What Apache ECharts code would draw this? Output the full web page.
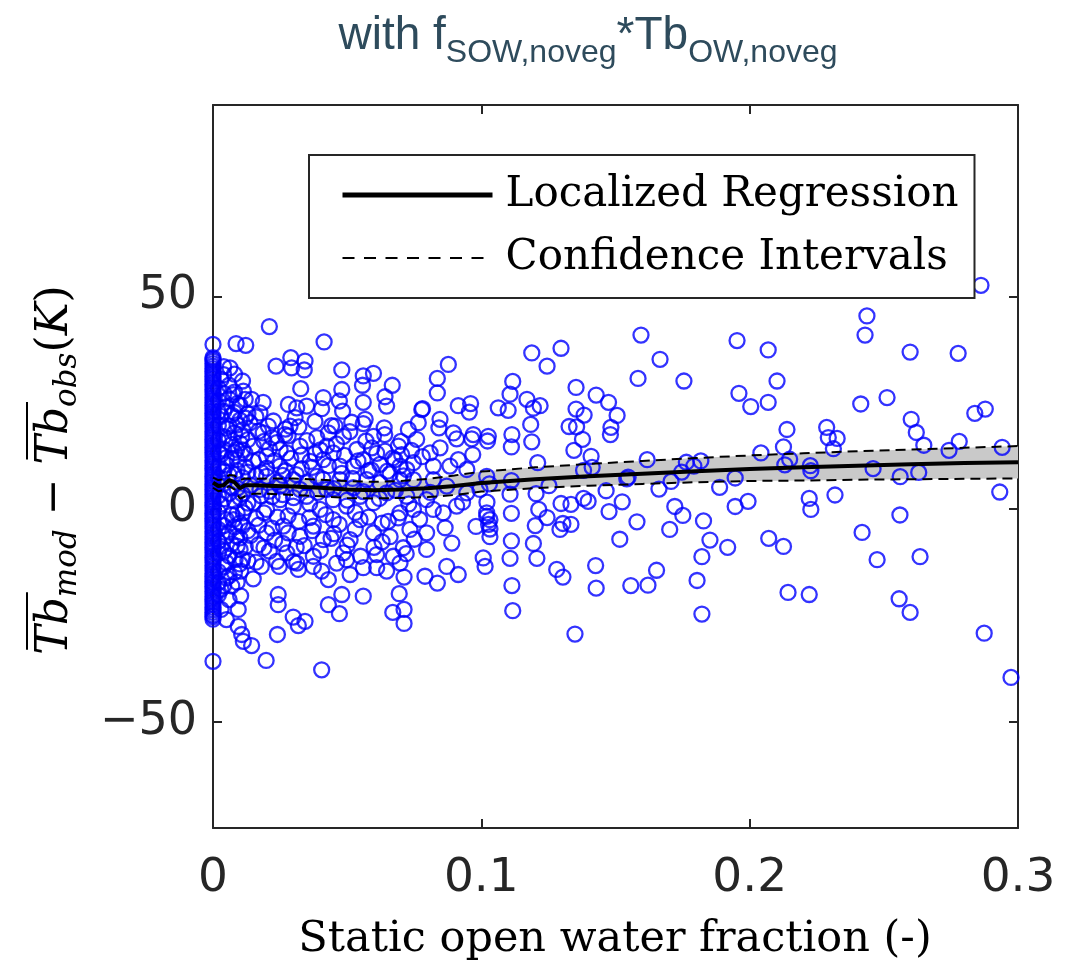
<!DOCTYPE html>
<html><head><meta charset="utf-8">
<script src="https://cdn.jsdelivr.net/npm/echarts@6/dist/echarts.min.js"></script>
<style>html,body{margin:0;padding:0;background:#fff}#c{width:1081px;height:965px}</style>
</head><body><div id="c"></div>
<script>
// ---------- data ----------
const xTicks = [0, 0.1, 0.2, 0.3];
const yTicks = [-50, 0, 50];

const regX    = [0, 0.002, 0.004, 0.006, 0.008, 0.010, 0.012, 0.015, 0.02, 0.03, 0.04, 0.05, 0.06, 0.07, 0.08, 0.09, 0.1, 0.12, 0.14, 0.16, 0.18, 0.2, 0.22, 0.24, 0.26, 0.28, 0.3];
const regY    = [6.2, 5.4, 5.6, 6.8, 6.3, 4.9, 5.6, 5.6, 5.5, 5.3, 5.0, 4.6, 4.4, 4.6, 4.9, 5.4, 6.1, 7.0, 7.7, 8.3, 8.9, 9.4, 9.8, 10.2, 10.5, 10.8, 11.0];
const ciUpper = [7.4, 6.8, 7.0, 8.0, 7.9, 6.8, 7.2, 7.1, 7.2, 7.2, 6.9, 6.6, 6.4, 6.6, 7.1, 7.9, 8.8, 9.8, 10.6, 11.3, 12.0, 12.6, 13.1, 13.6, 14.0, 14.4, 14.8];
const ciLower = [5.0, 4.2, 4.4, 5.4, 4.6, 2.4, 3.0, 3.6, 3.6, 3.3, 3.0, 2.6, 2.5, 2.6, 2.8, 3.3, 4.1, 4.9, 5.5, 5.9, 6.3, 6.6, 6.7, 6.9, 7.0, 7.1, 7.2];

// points sitting exactly at x = 0 (dense column)
const zeroColumnY = [-35.8,-25.9,-24.3,-23.1,-21.8,-20.6,-19.4,-18.2,-17.1,-15.8,-14.5,-13.3,-12.0,-10.9,-9.6,-8.4,-7.1,-5.9,-4.6,-3.5,-2.2,-1.0,0.3,1.5,2.8,4.0,5.2,6.5,7.7,9.0,10.2,11.4,12.7,13.9,15.1,16.4,17.6,18.8,20.1,21.3,22.5,23.8,25.0,26.2,27.5,28.7,29.9,31.2,32.4,33.6,34.8,35.6,38.7];
const zeroColumnY2 = [-25.3,-24.9,-23.7,-22.4,-21.2,-20.0,-18.8,-17.6,-16.4,-15.2,-13.9,-12.6,-11.4,-10.2,-9.0,-7.8,-6.5,-5.3,-4.1,-2.8,-1.6,-0.4,0.9,2.1,3.4,4.6,5.8,7.1,8.3,9.6,10.8,12.1,13.3,14.5,15.8,17.0,18.2,19.5,20.7,21.9,23.1,24.4,25.6,26.9,28.1,29.3,30.6,31.8,33.0,34.2,35.2];

// x in (0, 0.015]: crowded cluster next to the axis
const pointsNearZero = [[0.003,30.5],[0.004,27.2],[0.005,24.1],[0.003,21.8],[0.006,19.5],[0.004,17.0],[0.007,15.2],[0.003,12.8],[0.005,10.4],[0.008,8.1],[0.004,6.0],[0.006,3.7],[0.003,1.2],[0.007,-1.4],[0.004,-3.9],[0.005,-6.3],[0.003,-8.8],[0.006,-11.0],[0.004,-13.6],[0.005,-16.2],[0.003,-18.9],[0.006,-21.3],[0.008,22.7],[0.009,19.8],[0.01,24.5],[0.009,11.6],[0.011,13.9],[0.009,4.9],[0.011,7.4],[0.01,-3.3],[0.012,0.3],[0.009,-8.7],[0.011,-11.8],[0.012,9.9],[0.013,16.3],[0.012,21.4],[0.013,-5.1],[0.014,5.6],[0.015,11.2],[0.004,33.5],[0.006,29.1],[0.008,31.7],[0.003,-23.6],[0.005,-26.0],[0.007,-18.1],[0.0086,38.9],[0.0122,38.5],[0.0063,33.2],[0.0076,26.9],[0.0113,27.7],[0.0144,25.8],[0.0138,20.3],[0.0107,17.1],[0.0088,14.0],[0.015,14.8],[0.0113,-0.9],[0.0144,-32.1],[0.0113,-31.1],[0.0107,-29.5],[0.0094,-27.6],[0.0094,-23.6],[0.0103,-20.4],[0.0103,-14.6],[0.0082,-11.9],[0.0101,-9.5],[0.0088,-6.4],[0.0076,-2.5],[0.015,1.5],
[0.002,28.4],[0.002,25.5],[0.002,22.9],[0.002,19.7],[0.002,16.2],[0.002,13.4],[0.002,9.8],[0.002,7.3],[0.002,3.1],[0.002,-0.7],[0.002,-4.8],[0.002,-7.6],[0.002,-10.4],[0.002,-14.7],[0.002,-17.3],[0.002,-20.2],[0.004,31.6],[0.004,23.0],[0.004,14.1],[0.004,8.8],[0.004,2.4],[0.004,-9.9],[0.004,-18.0],[0.005,19.0],[0.005,12.1],[0.005,-2.5],[0.005,-12.6],[0.006,25.9],[0.006,16.6],[0.006,8.0],[0.006,-5.4],[0.006,-15.7],[0.007,22.1],[0.007,11.9],[0.007,5.0],[0.007,-8.2],[0.008,27.5],[0.008,17.9],[0.008,13.3],[0.008,1.9],[0.008,-4.2],[0.008,-14.9],[0.009,24.8],[0.009,9.1],[0.009,-1.0],[0.009,-17.2],[0.01,20.9],[0.01,15.5],[0.01,2.7],[0.01,-6.8],[0.01,-12.9],[0.011,30.1],[0.011,18.6],[0.011,3.5],[0.011,-3.9],[0.012,25.8],[0.012,13.0],[0.012,-8.9],[0.013,8.7],[0.013,1.4],[0.013,-12.2],[0.013,22.4]];

// 0.015 < x <= 0.105
const pointsLeft = [[0.021,42.9],[0.0414,39.3],[0.0235,33.6],[0.029,35.6],[0.0293,33.2],[0.0343,34.8],[0.034,32.7],[0.048,32.7],[0.0598,31.9],[0.056,31.3],[0.0557,29.1],[0.0668,29.1],[0.0877,34.0],[0.0836,30.7],[0.0836,27.3],[0.0327,28.3],[0.048,28.1],[0.0411,26.2],[0.0471,25.4],[0.056,25.1],[0.0641,26.4],[0.0647,24.2],[0.0778,23.4],[0.0914,24.3],[0.096,24.8],[0.0955,22.8],[0.1026,17.1],[0.0187,25.1],[0.0281,24.6],[0.0312,23.8],[0.0349,24.2],[0.0405,23.6],[0.0442,19.6],[0.0483,23.0],[0.0517,20.4],[0.0567,21.1],[0.056,20.1],[0.0638,19.1],[0.0598,17.1],[0.0728,18.7],[0.0765,20.3],[0.0781,23.6],[0.0846,21.1],[0.0842,19.1],[0.0896,17.9],[0.0908,16.5],[0.0964,16.5],[0.0968,12.8],[0.097,17.5],[0.0846,14.4],[0.0809,13.2],[0.0759,16.4],[0.0691,14.8],[0.0703,12.8],[0.0641,13.6],[0.0678,11.6],[0.0592,14.4],[0.056,11.6],[0.0536,14.0],[0.0486,17.1],[0.0455,19.5],[0.0424,14.8],[0.0387,16.8],[0.0306,21.5],[0.0287,19.5],[0.0268,17.5],[0.0225,20.7],[0.0206,19.5],[0.0175,22.6],[0.0237,15.6],[0.0275,13.2],[0.0324,14.8],[0.0362,11.2],[0.0411,11.6],[0.0473,10.1],[0.0448,13.2],[0.0523,10.1],[0.0622,10.5],[0.0697,10.1],[0.0747,10.9],[0.0821,10.1],[0.0883,10.1],[0.0914,11.6],[0.0946,9.3],[0.102,7.7],[0.1063,23.8],[0.02,12.4],[0.025,10.1],[0.0187,17.9],
[0.0697,6.9],[0.0722,9.3],[0.0747,6.9],[0.0821,6.9],[0.0871,5.4],[0.0946,3.8],[0.0995,4.6],[0.102,-0.9],[0.1032,-2.5],[0.0908,0.7],[0.0858,-0.9],[0.0821,-0.1],[0.0796,2.2],[0.0747,-0.1],[0.0722,3.0],[0.0647,3.8],[0.0598,1.5],[0.0548,3.0],[0.0498,0.7],[0.0448,2.2],[0.0399,-0.1],[0.0349,3.0],[0.0299,0.7],[0.025,2.2],[0.02,-0.1],[0.0573,6.9],[0.0473,6.9],[0.0387,7.7],[0.0299,6.9],[0.02,7.7],[0.0175,4.6],[0.0424,4.6],[0.0523,5.0],[0.0622,6.2],[0.0324,4.6],[0.025,5.4],
[0.0405,-37.8],[0.0198,-35.6],[0.024,-29.5],[0.0243,-20.1],[0.0243,-22.5],[0.0299,-25.4],[0.0318,-27.4],[0.0343,-26.4],[0.043,-22.5],[0.0471,-24.6],[0.048,-20.1],[0.056,-20.5],[0.067,-24.3],[0.0712,-23.6],[0.0712,-26.9],[0.0694,-19.9],[0.0712,-16.0],[0.0247,-13.5],[0.0237,-12.3],[0.0318,-14.2],[0.0312,-12.7],[0.0374,-11.1],[0.0374,-13.5],[0.0405,-14.6],[0.043,-16.6],[0.0461,-12.7],[0.0498,-11.9],[0.0511,-15.4],[0.056,-13.8],[0.061,-10.7],[0.061,-13.8],[0.0647,-14.6],[0.0672,-11.1],[0.0709,-9.1],[0.0697,-12.7],[0.0796,-9.5],[0.079,-15.8],[0.0836,-17.4],[0.0871,-13.5],[0.0914,-15.4],[0.1007,-11.5],[0.102,-1.7],[0.1032,-4.7],[0.0865,-4.4],[0.0796,-5.6],[0.0734,-4.8],[0.0653,-2.9],[0.0598,-5.6],[0.0511,-7.2],[0.0411,-7.2],[0.0324,-6.4],[0.0275,-10.3],[0.0169,-8.4],[0.02,-5.6],[0.0262,-4.0],[0.0374,-4.0],[0.0448,-2.5],[0.0548,-2.5],[0.0697,-0.9],[0.0486,-10.3],
[0.016,-2.2],[0.017,18.3],[0.018,8.6],[0.016,-12.5],[0.019,-9.1],[0.021,14.2],[0.022,2.9],[0.023,-7.3],[0.026,7.9],[0.028,-1.6],[0.027,18.8],[0.033,9.5],[0.031,-9.0],[0.036,-2.0],[0.038,13.0],[0.045,-5.8],[0.053,-0.8],[0.058,9.0],[0.063,-7.7],[0.066,8.3],[0.077,-2.4],[0.081,3.9],[0.089,-8.0],[0.093,1.6],[0.098,-4.1],[0.078,12.3],
[0.014,-6.2],[0.015,-16.4],[0.016,7.9],[0.016,21.7],[0.017,-3.8],[0.017,11.6],[0.018,-13.5],[0.018,3.1],[0.019,15.9],[0.019,-0.9],[0.02,9.6],[0.021,-9.9],[0.021,4.2],[0.022,16.8],[0.022,-4.5],[0.023,11.4],[0.024,6.3],[0.024,-1.9],[0.025,14.0],[0.026,-8.1],[0.026,3.4],[0.027,9.0],[0.028,-5.6],[0.028,17.2],[0.029,11.9],[0.03,2.7],[0.03,-12.4],[0.031,8.1],[0.032,-2.9],[0.032,19.3],[0.033,12.7],[0.034,-8.6],[0.035,6.2],[0.035,16.1],[0.036,1.2],[0.037,-5.1],[0.037,9.8],[0.038,20.6],[0.039,3.9],[0.04,-9.7],[0.04,13.9],[0.041,7.0],[0.042,-1.3],[0.043,17.9],[0.043,10.2],[0.044,-6.9],[0.045,4.8],[0.046,15.3],[0.047,-3.6],[0.048,8.4],[0.049,12.6],[0.05,-8.5],[0.05,2.1],[0.051,18.2],[0.052,7.2],[0.053,-4.7],[0.054,11.3],[0.055,-11.1],[0.056,4.1],[0.057,16.0],[0.058,-1.9],[0.059,9.2],[0.06,-9.0],[0.061,13.1],[0.062,2.5],[0.063,-3.3],[0.064,17.5],[0.065,8.9],[0.066,-6.5],[0.067,12.0],[0.068,4.4],[0.069,-2.1],[0.07,15.9],[0.071,7.8],[0.072,-10.5],[0.073,1.2],[0.074,13.8],[0.075,-7.1]];

// x > 0.105
const pointsRight = [[0.2437,45.4],[0.243,40.9],[0.1595,40.9],[0.1953,39.6],[0.2069,37.4],[0.2598,36.9],[0.2777,36.6],[0.1188,36.7],[0.1297,37.8],[0.1245,33.6],[0.1666,35.2],[0.1584,30.7],[0.1755,30.1],[0.2102,30.1],[0.1117,30.0],[0.1107,27.0],[0.1353,28.6],[0.1428,26.8],[0.196,27.2],[0.2069,25.1],[0.2004,24.1],[0.2414,24.7],[0.2512,26.2],[0.2839,22.5],[0.2878,23.5],[0.2602,21.1],[0.2621,18.0],[0.2649,15.0],[0.2743,13.8],[0.2781,15.9],[0.2941,14.5],[0.2932,4.0],[0.2974,-39.6],[0.117,25.8],[0.1194,23.7],[0.1219,24.3],[0.11,23.2],[0.1184,19.9],[0.1114,17.5],[0.1112,14.6],[0.1188,15.8],[0.1023,16.0],[0.121,10.9],[0.1353,23.5],[0.1383,22.1],[0.1327,19.4],[0.1355,19.3],[0.1377,16.4],[0.1345,13.8],[0.1474,25.1],[0.1506,22.0],[0.1483,19.2],[0.1481,17.5],[0.1409,12.4],[0.1413,9.8],[0.1618,11.6],[0.1764,11.0],[0.1818,11.3],[0.1792,10.1],[0.1747,8.7],[0.2042,13.2],[0.2126,14.6],[0.2139,18.7],[0.2149,11.7],[0.2131,10.4],[0.2287,19.2],[0.2293,16.8],[0.2326,16.6],[0.2312,14.2],[0.2226,10.2],[0.2228,9.0],[0.246,9.5],[0.2561,7.6],[0.263,8.6],[0.1946,7.3],[0.1888,5.1],[0.1946,0.6],[0.1994,1.8],[0.2222,2.5],[0.2228,-0.1],[0.2318,3.3],[0.256,-1.4],[0.2419,-5.5],[0.2475,-11.9],[0.2635,-11.2],[0.2071,-6.9],[0.2126,-8.8],[0.2143,-19.6],[0.2222,-20.1],[0.2557,-21.1],[0.2598,-24.3],[0.2874,-29.2],[0.1721,0.6],[0.1751,-1.5],[0.1702,-4.8],[0.1828,-2.8],[0.1852,-7.3],[0.1822,-11.2],[0.1918,-9.0],[0.1804,-16.8],[0.1822,-24.7],[0.1653,-14.4],[0.1621,-17.9],[0.1557,-18.0],[0.158,-3.0],[0.1516,-7.1],[0.1662,4.7],[0.1707,6.5],[0.1542,7.1],[0.1525,1.7],[0.1476,-0.6],[0.1465,4.3],[0.1426,-13.3],[0.1428,-18.6],[0.1349,-29.4],[0.1398,1.8],[0.1381,2.5],[0.1334,1.1],[0.1297,1.3],[0.1304,-3.4],[0.1334,-3.6],[0.1293,-4.8],[0.1281,-14.2],[0.1304,-16.0],[0.1245,-2.0],[0.1214,-0.1],[0.1201,-3.9],[0.1194,-8.1],[0.1207,-11.6],[0.1112,-1.0],[0.1112,-7.5],[0.1107,-11.6],[0.1114,-18.0],[0.1117,-23.9],[0.1027,-3.6],[0.1032,-6.5],[0.1014,-13.5],[0.1021,1.6],[0.103,5.9],[0.1112,6.7],[0.1107,3.5],[0.1252,5.5],[0.1381,9.1],[0.1547,7.5],[0.1204,3.6],[0.2862,52.6]];

// ---------- styles ----------
const AX = '#262626';
const SERIF = '"DejaVu Serif", serif';
const SANS = '"DejaVu Sans", sans-serif';

const scatterData = zeroColumnY.concat(zeroColumnY2).map(y => [0, y]).concat(pointsNearZero, pointsLeft, pointsRight);
const pairs = ys => regX.map((x, i) => [x, ys[i]]);

// text measurement for composed labels
const mctx = document.createElement('canvas').getContext('2d');
function tw(t, style, size, fam) { mctx.font = style + ' ' + size + 'px ' + fam; return mctx.measureText(t).width; }

// y-axis title (rotated): Tb_mod − Tb_obs (K) with overlines
function yTitle() {
  const M = 44, S = 31;
  const pieces = [
    {t: 'Tb', s: M, st: 'italic', b: 0, over: true},
    {t: 'mod', s: S, st: 'italic', b: 8},
    {t: ' \u2212 ', s: M, st: 'normal', b: 0},
    {t: 'Tb', s: M, st: 'italic', b: 0, over: true},
    {t: 'obs', s: S, st: 'italic', b: 8},
    {t: '(', s: M, st: 'normal', b: 0},
    {t: 'K', s: M, st: 'italic', b: 0},
    {t: ')', s: M, st: 'normal', b: 0}
  ];
  pieces.forEach(p => p.w = tw(p.t, p.st, p.s, SERIF));
  const W = pieces.reduce((a, p) => a + p.w, 0);
  let pos = -W / 2;
  const children = [];
  pieces.forEach(p => {
    children.push({type: 'text', x: pos, y: p.b - 0.346 * p.s,
      style: {text: p.t, fontFamily: SERIF, fontSize: p.s, fontStyle: p.st, fill: '#000', align: 'left', verticalAlign: 'middle'}});
    if (p.over) children.push({type: 'line', shape: {x1: pos + 5, y1: -44, x2: pos + p.w + 5, y2: -44}, style: {stroke: '#000', lineWidth: 2}});
    pos += p.w;
  });
  return {type: 'group', x: 71, y: 470, rotation: Math.PI / 2, children};
}

// title: with f_SOW,noveg * Tb_OW,noveg
function mainTitle() {
  const M = 46, S = 32, base = 52, subDrop = 12, FAM = '"Liberation Sans", Arial, sans-serif';
  const pieces = [
    {t: 'with f', s: M, b: base},
    {t: 'SOW,noveg', s: S, b: base + subDrop},
    {t: '*Tb', s: M, b: base},
    {t: 'OW,noveg', s: S, b: base + subDrop}
  ];
  pieces.forEach(p => p.w = tw(p.t, 'normal', p.s, FAM));
  const W = pieces.reduce((a, p) => a + p.w, 0);
  let pos = 588 - W / 2;
  const children = [];
  pieces.forEach(p => {
    children.push({type: 'text', x: pos, y: p.b - 0.346 * p.s,
      style: {text: p.t, fontFamily: FAM, fontSize: p.s, fill: '#2e4b5c', align: 'left', verticalAlign: 'middle'}});
    pos += p.w;
  });
  return {type: 'group', children};
}

const axisCommon = {
  axisLine: {show: true, onZero: false, lineStyle: {color: AX, width: 2}},
  splitLine: {show: false}
};

const chart = echarts.init(document.getElementById('c'), null, {renderer: 'canvas'});
chart.setOption({
  backgroundColor: '#fff',
  animation: false,
  grid: {left: 213, right: 63, top: 105, bottom: 137, containLabel: false},
  xAxis: [
    Object.assign({type: 'value', min: xTicks[0], max: xTicks[xTicks.length - 1], interval: 0.1, position: 'bottom',
      axisTick: {show: true, inside: true, length: 9, lineStyle: {color: AX, width: 2}},
      axisLabel: {show: true, margin: 27, fontFamily: SANS, fontSize: 47, color: AX,
        formatter: v => String(Math.round(v * 10) / 10)}}, axisCommon),
    Object.assign({type: 'value', min: xTicks[0], max: xTicks[xTicks.length - 1], interval: 0.1, position: 'top',
      axisTick: {show: true, inside: true, length: 9, lineStyle: {color: AX, width: 2}},
      axisLabel: {show: false}}, axisCommon)
  ],
  yAxis: [
    Object.assign({type: 'value', min: -75, max: 95, position: 'left',
      axisTick: {show: true, inside: true, length: 9, customValues: yTicks, lineStyle: {color: AX, width: 2}},
      axisLabel: {show: true, margin: 16, customValues: yTicks, fontFamily: SANS, fontSize: 46, color: AX,
        formatter: v => (v < 0 ? '\u2212' + Math.abs(v) : String(v))}}, axisCommon),
    Object.assign({type: 'value', min: -75, max: 95, position: 'right',
      axisTick: {show: true, inside: true, length: 9, customValues: yTicks, lineStyle: {color: AX, width: 2}},
      axisLabel: {show: false}}, axisCommon)
  ],
  legend: {
    data: [
      {name: 'Localized Regression', itemStyle: {opacity: 0}, lineStyle: {width: 5, type: 'solid', color: '#000'}},
      {name: 'Confidence Intervals', itemStyle: {opacity: 0}, lineStyle: {width: 2, type: [12, 9.5], color: '#000'}}
    ],
    orient: 'vertical', left: 309, top: 155, padding: [19, 16, 19, 31], itemGap: 21,
    itemWidth: 150, itemHeight: 20, backgroundColor: '#fff', borderColor: AX, borderWidth: 2, borderRadius: 0,
    selectedMode: false,
    textStyle: {fontFamily: SERIF, fontSize: 42, lineHeight: 42, color: '#000', padding: [0, 0, 0, 8]}
  },
  graphic: [
    mainTitle(),
    yTitle(),
    {type: 'text', x: 615, y: 940, style: {text: 'Static open water fraction (-)', fontFamily: SERIF, fontSize: 43,
      fill: '#000', align: 'center', verticalAlign: 'middle'}}
  ],
  series: [
    {type: 'custom', name: 'band', silent: true, z: 1, clip: true, data: [[0, 0]],
      renderItem: function (params, api) {
        const pts = [];
        for (let i = 0; i < regX.length; i++) pts.push(api.coord([regX[i], ciUpper[i]]));
        for (let i = regX.length - 1; i >= 0; i--) pts.push(api.coord([regX[i], ciLower[i]]));
        return {type: 'polygon', shape: {points: pts}, style: {fill: '#c9c9c9'}};
      }},
    {type: 'scatter', name: 'data', z: 2, clip: false, symbol: 'circle', symbolSize: 15, large: false, progressive: 0,
      itemStyle: {color: 'rgba(0,0,0,0)', borderColor: '#0000ff', borderWidth: 2.3}, data: scatterData},
    {type: 'line', name: 'Confidence Intervals', z: 3, symbol: 'none', data: pairs(ciUpper),
      lineStyle: {color: '#000', width: 2, type: [10, 6]}},
    {type: 'line', name: 'Confidence Intervals', z: 3, symbol: 'none', data: pairs(ciLower),
      lineStyle: {color: '#000', width: 2, type: [10, 6]}},
    {type: 'line', name: 'Localized Regression', z: 4, symbol: 'none', data: pairs(regY),
      lineStyle: {color: '#000', width: 4}}
  ]
});
</script>
</body></html>
